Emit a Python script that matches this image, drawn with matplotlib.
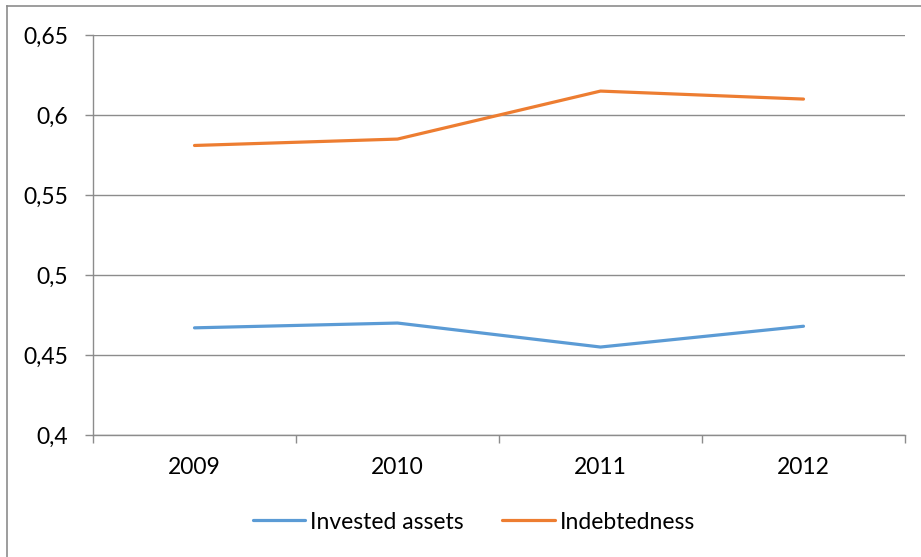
import matplotlib
matplotlib.use("Agg")
import matplotlib.pyplot as plt
from matplotlib.lines import Line2D
from matplotlib.ticker import FixedLocator, FuncFormatter

# Ratios per year
years = ["2009", "2010", "2011", "2012"]
invested_assets = [0.467, 0.470, 0.455, 0.468]
indebtedness = [0.581, 0.585, 0.615, 0.610]

plt.rcParams["font.family"] = ["Lato", "DejaVu Sans"]

GRID = "#8c8c8c"

fig = plt.figure(figsize=(9.21, 5.57), dpi=100)
ax = fig.add_axes([0.101, 0.219, 0.8816, 0.718])

x = list(range(len(years)))
ax.plot(x, invested_assets, color="#5B9BD5", lw=2.3, solid_capstyle="round",
        label="Invested assets")
ax.plot(x, indebtedness, color="#ED7D31", lw=2.3, solid_capstyle="round",
        label="Indebtedness")

ax.set_xlim(-0.5, len(years) - 0.5)
ax.set_ylim(0.4, 0.65)
ax.set_yticks([0.4, 0.45, 0.5, 0.55, 0.6, 0.65])
ax.yaxis.set_major_formatter(FuncFormatter(lambda v, _: f"{v:g}".replace(".", ",")))
ax.grid(axis="y", color=GRID, lw=1)
ax.set_axisbelow(True)

ax.set_xticks(x)
ax.set_xticklabels(years)
ax.xaxis.set_minor_locator(FixedLocator([i - 0.5 for i in range(len(years) + 1)]))
ax.tick_params(axis="x", which="major", length=0, pad=16, labelsize=16.5)
ax.tick_params(axis="x", which="minor", length=6, width=1, color=GRID)
ax.tick_params(axis="y", length=6, width=1, color=GRID, pad=12, labelsize=16.5)

for side in ("top", "right"):
    ax.spines[side].set_visible(False)
for side in ("left", "bottom"):
    ax.spines[side].set_color(GRID)
    ax.spines[side].set_linewidth(1)

ax.legend(loc="center", bbox_to_anchor=(0.469, -0.2175), ncol=2, frameon=False,
          fontsize=16.5, handlelength=2.3, handletextpad=0.2, columnspacing=1.7)

# outer chart frame (left and top edges)
fig.add_artist(Line2D([0.0076, 0.0076], [0.0, 0.989], color=GRID, lw=1.2))
fig.add_artist(Line2D([0.0076, 1.0], [0.989, 0.989], color=GRID, lw=1.2))

fig.savefig("out.png", dpi=100)
plt.close(fig)
